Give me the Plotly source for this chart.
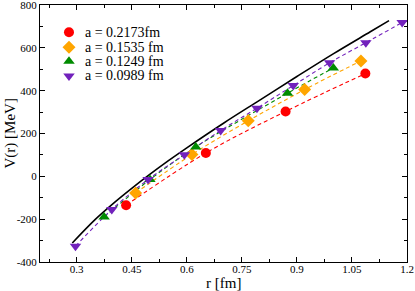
import plotly.graph_objects as go

# ---- data ----
r_a2173 = [0.4346, 0.6519, 0.8692, 1.0865]
V_a2173 = [-135, 109, 303, 480]

r_a1535 = [0.4605, 0.6140, 0.7675, 0.9210, 1.0745]
V_a1535 = [-78, 102, 259, 405, 539]

r_a1249 = [0.3747, 0.4996, 0.6245, 0.8743, 0.9992]
V_a1249 = [-190, -15, 137, 388, 506]

r_a0989 = [0.2967, 0.3956, 0.4945, 0.5934, 0.6923, 0.7912, 0.8901, 0.9890, 1.0879, 1.1868]
V_a0989 = [-326, -155, -15, 101, 214, 318, 424, 530, 624, 718]

r_cont = [0.288, 0.35, 0.40, 0.45, 0.50, 0.55, 0.60, 0.70, 0.80, 0.90, 1.00, 1.10, 1.151]
V_cont = [-311, -202, -126, -56, 10, 73, 133, 248, 357, 466, 573, 675, 727]

labels = ["a = 0.2173fm", "a = 0.1535 fm", "a = 0.1249 fm", "a = 0.0989 fm"]
colors = ["#ff0000", "#ffa500", "#008b00", "#7221bc"]
symbols = ["circle", "diamond", "triangle-up", "triangle-down"]

x_ticks = [0.3, 0.45, 0.6, 0.75, 0.9, 1.05, 1.2]
y_ticks = [-400, -200, 0, 200, 400, 600, 800]

series = [(r_a2173, V_a2173), (r_a1535, V_a1535), (r_a1249, V_a1249), (r_a0989, V_a0989)]

FONT = "Liberation Serif"
fig = go.Figure()

# continuum curve
fig.add_trace(go.Scatter(x=r_cont, y=V_cont, mode="lines", line=dict(color="black", width=1.6, shape="spline"),
                         showlegend=False, hoverinfo="skip"))

# dashed fit lines
for (rr, vv), c in zip(series, colors):
    fig.add_trace(go.Scatter(x=rr, y=vv, mode="lines", line=dict(color=c, width=1.1, dash="4px,3px", shape="spline"),
                             showlegend=False, hoverinfo="skip"))

# markers
for (rr, vv), c, s, lab in zip(series, colors, symbols, labels):
    fig.add_trace(go.Scatter(x=rr, y=vv, mode="markers", name=lab,
                             marker=dict(color=c, symbol=s, size=10, line=dict(width=0)),
                             showlegend=False))

# hand-placed legend (overlay axes in [0,1])
leg_y = [0.894, 0.836, 0.781, 0.724]
fig.add_trace(go.Scatter(x=[0.079] * 4, y=leg_y, mode="markers", xaxis="x2", yaxis="y2",
                         marker=dict(color=colors, symbol=symbols, size=10, line=dict(width=0)),
                         showlegend=False, hoverinfo="skip"))
for lab, yy in zip(labels, leg_y):
    fig.add_annotation(x=0.118, y=yy, xref="paper", yref="paper", text=lab, showarrow=False,
                       xanchor="left", yanchor="middle", font=dict(family=FONT, size=14, color="black"))

# axis titles
fig.add_annotation(x=0.5, y=0.0, xref="paper", yref="paper", yshift=-21, text="r [fm]", showarrow=False,
                   xanchor="center", yanchor="middle", font=dict(family=FONT, size=15, color="black"))
fig.add_annotation(x=0, y=0.5, xref="paper", yref="paper", xshift=-30, text="V(r) [MeV]", showarrow=False,
                   textangle=-90, xanchor="center", yanchor="middle", font=dict(family=FONT, size=15, color="black"))

axis_common = dict(showline=True, linecolor="black", linewidth=1, mirror="ticks", ticks="inside",
                   ticklen=5, tickwidth=1, tickcolor="black", showgrid=False, zeroline=False, automargin=False,
                   ticklabeloverflow="allow",
                   tickfont=dict(family=FONT, size=11, color="black"))

fig.update_layout(
    width=415, height=291,
    margin=dict(l=40, r=8, t=5, b=29),
    plot_bgcolor="white", paper_bgcolor="white",
    showlegend=False,
    xaxis=dict(range=[0.2, 1.2], tickvals=x_ticks, ticktext=[str(t) for t in x_ticks],
               minor=dict(ticks="inside", ticklen=3, tickcolor="black", dtick=0.075, tick0=0.225, showgrid=False),
               ticklabelstandoff=-3,
               **axis_common),
    yaxis=dict(range=[-400, 800], tickvals=y_ticks, ticktext=[str(t) for t in y_ticks],
               minor=dict(ticks="inside", ticklen=3, tickcolor="black", dtick=100, showgrid=False),
               **axis_common),
    xaxis2=dict(range=[0, 1], overlaying="x", visible=False, fixedrange=True),
    yaxis2=dict(range=[0, 1], overlaying="y", visible=False, fixedrange=True),
)

fig.write_html("out.html", config={"displayModeBar": False},
               post_script="document.body.style.margin='0';document.body.style.overflow='hidden';")
